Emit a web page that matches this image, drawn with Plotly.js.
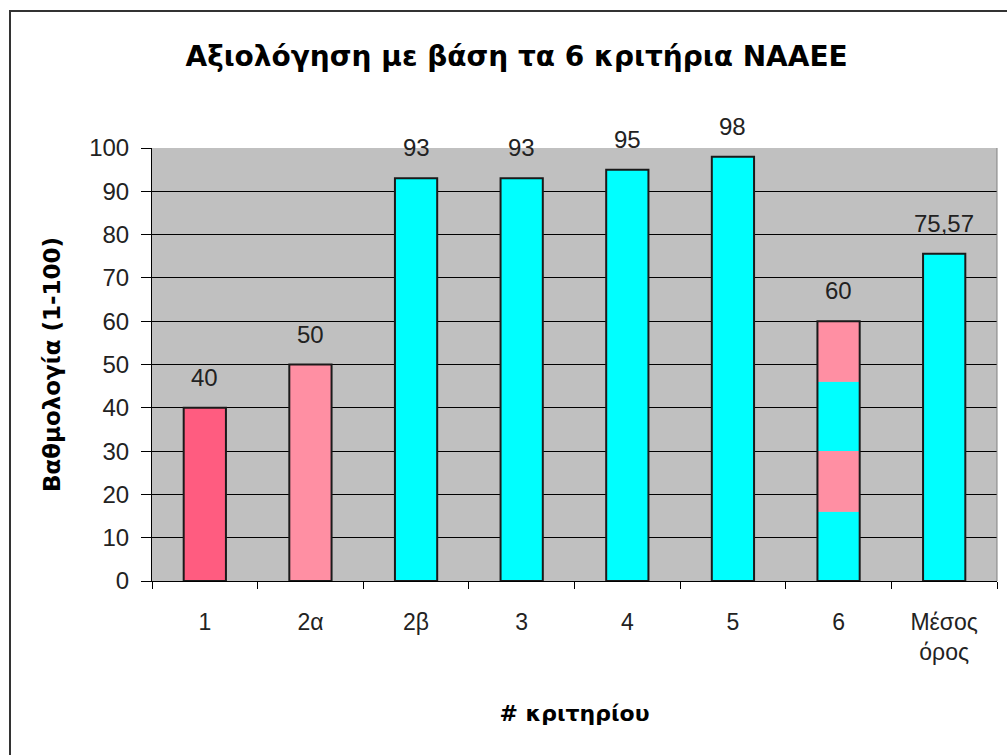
<!DOCTYPE html>
<html>
<head>
<meta charset="utf-8">
<script src="https://cdn.plot.ly/plotly-3.0.1.min.js"></script>
<style>
  html, body { margin: 0; padding: 0; background: #fff; }
  #wrap { position: relative; width: 1007px; height: 755px; }
  #chart { width: 1007px; height: 755px; }
  #frame { position: absolute; left: 9px; top: 10px; width: 1000px; height: 750px;
           border-top: 2px solid #333; border-left: 2px solid #333; pointer-events: none; }
</style>
</head>
<body>
<div id="wrap">
  <div id="chart"></div>
  <div id="frame"></div>
</div>
<script>
// Data
const categories = ['1', '2α', '2β', '3', '4', '5', '6', 'Μέσος<br>όρος'];
const scores = [40, 50, 93, 93, 95, 98, 60, 75.57];
const scoreLabels = ['40', '50', '93', '93', '95', '98', '60', '75,57'];
const barColors = ['#FF5C80', '#FF8FA3', '#00FFFF', '#00FFFF', '#00FFFF', '#00FFFF', 'rgba(0,0,0,0)', '#00FFFF'];
// Criterion 6 is drawn as coloured bands
const sixBandBases = [0, 16, 30, 46];
const sixBandHeights = [16, 14, 16, 14];
const sixBandColors = ['#00FFFF', '#FF8FA3', '#00FFFF', '#FF8FA3'];
const yTicks = [0, 10, 20, 30, 40, 50, 60, 70, 80, 90, 100];

const font = 'Arial, "Liberation Sans", sans-serif';
const boldFont = '"DejaVu Sans", Arial, sans-serif';

const bands = {
  type: 'bar',
  x: sixBandBases.map(() => categories[6]),
  y: sixBandHeights,
  base: sixBandBases,
  marker: { color: sixBandColors, line: { width: 0 } },
  width: 0.4,
  hoverinfo: 'skip',
  showlegend: false
};

const main = {
  type: 'bar',
  x: categories,
  y: scores,
  marker: { color: barColors, line: { color: '#1a1a1a', width: 2 } },
  width: 0.4,
  showlegend: false
};

// value labels, placed by category index on the category axis
const labelAnnotations = categories.map((c, i) => ({
  x: i, y: scores[i], xref: 'x', yref: 'y',
  text: scoreLabels[i],
  showarrow: false,
  yanchor: 'bottom',
  yshift: 15,
  font: { family: font, size: 24, color: '#222' }
}));

const layout = {
  width: 1007,
  height: 755,
  margin: { l: 152, r: 10, t: 148, b: 174 },
  paper_bgcolor: '#ffffff',
  plot_bgcolor: '#C0C0C0',
  barmode: 'overlay',
  title: {
    text: '<b>Αξιολόγηση με βάση τα 6 κριτήρια NAAEE</b>',
    font: { family: boldFont, size: 28, color: '#000' },
    x: 0.513, xanchor: 'center',
    y: 0.925, yanchor: 'middle'
  },
  xaxis: {
    type: 'category',
    categoryorder: 'array',
    categoryarray: categories,
    tickson: 'boundaries',
    ticks: 'outside',
    ticklen: 7,
    tickcolor: '#000',
    tickwidth: 1,
    ticklabelstandoff: 20,
    showline: true,
    linecolor: '#000',
    linewidth: 1,
    showgrid: false,
    tickfont: { family: font, size: 23, color: '#222' },
    title: { text: '<b># κριτηρίου</b>', font: { family: boldFont, size: 22, color: '#000' }, standoff: 42 }
  },
  yaxis: {
    range: [0, 100],
    tickvals: yTicks,
    ticks: 'outside',
    ticklen: 10,
    tickcolor: '#000',
    ticklabelstandoff: 7,
    showline: true,
    linecolor: '#000',
    linewidth: 1,
    showgrid: true,
    gridcolor: '#000',
    gridwidth: 1,
    zeroline: false,
    tickfont: { family: font, size: 24, color: '#222' },
    title: { text: '<b>Βαθμολογία (1-100)</b>', font: { family: boldFont, size: 23, color: '#000' }, standoff: 22 }
  },
  annotations: labelAnnotations,
  shapes: [
    { type: 'line', xref: 'paper', yref: 'paper', x0: 1, x1: 1, y0: 0, y1: 1,
      line: { color: '#808080', width: 1 } }
  ]
};

Plotly.newPlot('chart', [bands, main], layout, { displayModeBar: false, staticPlot: true });
</script>
</body>
</html>
